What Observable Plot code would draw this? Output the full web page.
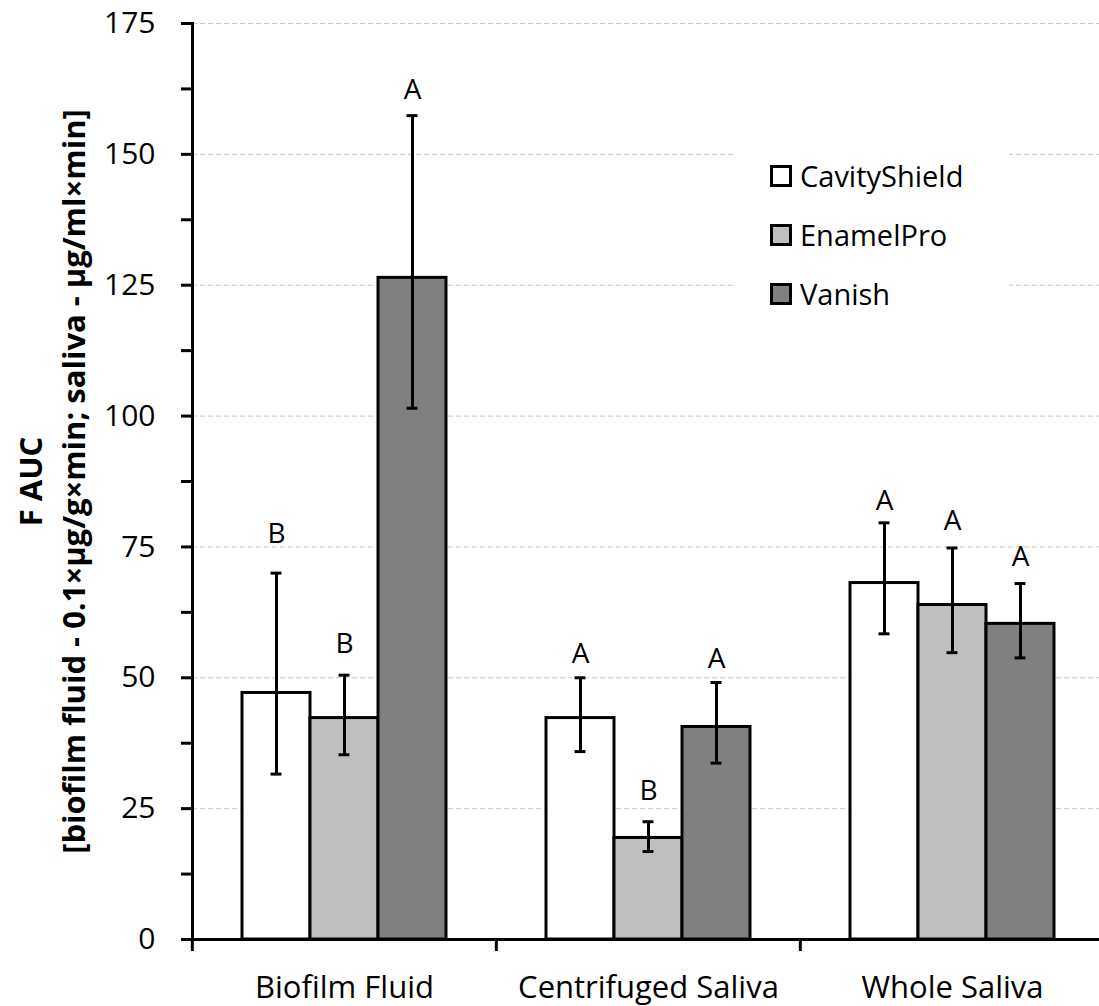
<!DOCTYPE html>
<html>
<head>
<meta charset="utf-8">
<script src="https://cdn.jsdelivr.net/npm/d3@7"></script>
<script src="https://cdn.jsdelivr.net/npm/@observablehq/plot@0.6"></script>
<style>
  body { margin: 0; background: #fff; }
  #wrap { position: relative; width: 1099px; height: 1006px; font-family: "Open Sans", sans-serif; }
  #legend { position: absolute; background: #fff; }
  .item { position: absolute; left: 0; display: flex; align-items: center; color: #000; }
  .sw { width: 22px; height: 22px; border: 3px solid #000; box-sizing: border-box; margin-right: 8px; flex: none; }
  .lt { font-size: 29px; line-height: 1; }
</style>
</head>
<body>
<div id="wrap"></div>
<script>
// ---- data ----
const categories = ["Biofilm Fluid", "Centrifuged Saliva", "Whole Saliva"];
const products = ["CavityShield", "EnamelPro", "Vanish"];
const productColors = ["#ffffff", "#bfbfbf", "#808080"];

// means per product (order follows categories)
const cavityShieldMean = [47.1, 42.3, 68.1];
const enamelProMean    = [42.3, 19.4, 63.9];
const vanishMean       = [126.4, 40.6, 60.3];

// error bar ends
const cavityShieldLow  = [31.6, 35.9, 58.4];
const cavityShieldHigh = [70.0, 50.0, 79.6];
const enamelProLow     = [35.3, 16.8, 54.8];
const enamelProHigh    = [50.5, 22.5, 74.8];
const vanishLow        = [101.5, 33.7, 53.8];
const vanishHigh       = [157.4, 49.1, 68.0];

// significance letters and the height they sit at
const cavityShieldLetter = ["B", "A", "A"];
const enamelProLetter    = ["B", "B", "A"];
const vanishLetter       = ["A", "A", "A"];
const cavityShieldLetterY = [75.8, 52.8, 82.0];
const enamelProLetterY    = [54.7, 26.7, 78.2];
const vanishLetterY       = [160.5, 51.8, 71.3];

const yTicks = [0, 12.5, 25, 37.5, 50, 62.5, 75, 87.5, 100, 112.5, 125, 137.5, 150, 162.5, 175];
const yTickLabels = ["0", "", "25", "", "50", "", "75", "", "100", "", "125", "", "150", "", "175"];
const yGrid = [25, 50, 75, 100, 125, 150, 175];

const yTitle1 = "F AUC";
const yTitle2 = "[biofilm fluid - 0.1×µg/g×min; saliva - µg/ml×min]";

// ---- build table ----
const means = [cavityShieldMean, enamelProMean, vanishMean];
const lows = [cavityShieldLow, enamelProLow, vanishLow];
const highs = [cavityShieldHigh, enamelProHigh, vanishHigh];
const letters = [cavityShieldLetter, enamelProLetter, vanishLetter];
const letterYs = [cavityShieldLetterY, enamelProLetterY, vanishLetterY];
const rows = categories.flatMap((c, i) => products.map((p, j) => ({
  category: c, product: p, value: means[j][i], lo: lows[j][i], hi: highs[j][i],
  letter: letters[j][i], letterY: letterYs[j][i]
})));

// ---- layout ----
const W = 1099, H = 1006, mL = 191, mR = -5, mT = 23, mB = 67;
const bandW = (W - mL - mR) / categories.length;
const xPadOuter = 0.735;
const barW = bandW / (products.length + 2 * xPadOuter);
const capW = 11;
const capInset = (barW - capW) / 2;

const chart = Plot.plot({
  width: W, height: H,
  marginLeft: mL, marginRight: mR, marginTop: mT, marginBottom: mB,
  style: { fontFamily: '"Open Sans", sans-serif', fontSize: "30px", color: "#000", background: "#fff" },
  fx: { domain: categories, padding: 0 },
  x: { domain: products, paddingInner: 0, paddingOuter: xPadOuter, axis: null },
  y: { domain: [0, 175] },
  color: { domain: products, range: productColors },
  marks: [
    Plot.gridY(yGrid, { stroke: "#c8c8c8", strokeOpacity: 1, strokeWidth: 1, strokeDasharray: "5,3" }),
    Plot.barY(rows, { fx: "category", x: "product", y: "value", fill: "product", stroke: "#000", strokeWidth: 3 }),
    Plot.ruleX(rows, { fx: "category", x: "product", y1: "lo", y2: "hi", stroke: "#000", strokeWidth: 3 }),
    Plot.tickY(rows, { fx: "category", x: "product", y: "lo", stroke: "#000", strokeWidth: 3, inset: capInset }),
    Plot.tickY(rows, { fx: "category", x: "product", y: "hi", stroke: "#000", strokeWidth: 3, inset: capInset }),
    Plot.text(rows, { fx: "category", x: "product", y: "letterY", text: "letter", lineAnchor: "bottom", fontSize: 28 }),
    Plot.ruleY([0], { stroke: "#000", strokeWidth: 3 }),
    Plot.frame({ anchor: "left", facet: "super", stroke: "#000", strokeWidth: 3 }),
    Plot.axisY({ ticks: yTicks, tickFormat: d => yTickLabels[yTicks.indexOf(d)], tickSize: 11, tickPadding: 26, strokeWidth: 3, label: null, fontSize: 30 }),
    Plot.axisFx({ anchor: "bottom", tickSize: 0, tickPadding: 36, label: null, fontSize: 31 }),
    Plot.axisFx({ anchor: "bottom", tickSize: 12, strokeWidth: 3, tickFormat: () => "", label: null, dx: -bandW / 2 }),
    Plot.text([yTitle1], { facet: "super", frameAnchor: "left", rotate: -90, textAnchor: "middle", lineAnchor: "bottom", dx: -151, fontWeight: "bold", fontSize: 31, text: d => d }),
    Plot.text([yTitle2], { facet: "super", frameAnchor: "left", rotate: -90, textAnchor: "middle", lineAnchor: "bottom", dx: -108, fontWeight: "bold", fontSize: 31, text: d => d })
  ]
});

const wrap = document.getElementById("wrap");
wrap.appendChild(chart);

// ---- legend (inside plot area) ----
const legend = document.createElement("div");
legend.id = "legend";
legend.style.left = "734px";
legend.style.top = "146px";
legend.style.width = "275px";
legend.style.height = "177px";
products.forEach((p, j) => {
  const item = document.createElement("div");
  item.className = "item";
  item.style.top = (j * 59) + "px";
  item.style.height = "59px";
  item.style.paddingLeft = "36px";
  const sw = document.createElement("div");
  sw.className = "sw";
  sw.style.background = productColors[j];
  const t = document.createElement("span");
  t.className = "lt";
  t.textContent = p;
  item.appendChild(sw);
  item.appendChild(t);
  legend.appendChild(item);
});
wrap.appendChild(legend);
</script>
</body>
</html>
